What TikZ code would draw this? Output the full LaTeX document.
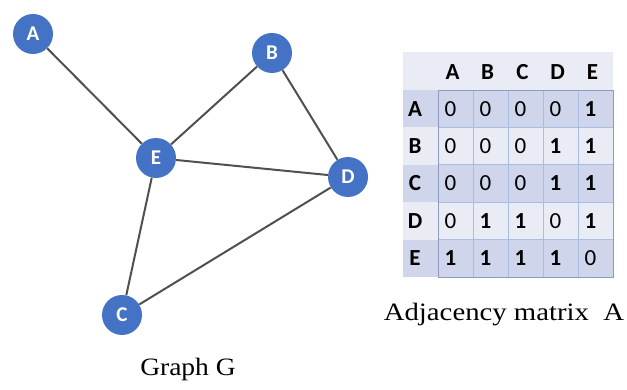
\documentclass[tikz,border=0pt]{standalone}
\usepackage{fontspec}
\newfontfamily\carlito{Carlito}
\newfontfamily\capserif{Liberation Serif}
\definecolor{nodeblue}{HTML}{4472C4}
\definecolor{edgegray}{HTML}{505050}
\definecolor{hdrlight}{HTML}{E9EBF5}
\definecolor{banddark}{HTML}{CFD5EA}
\definecolor{bandlight}{HTML}{E9EBF5}
\definecolor{gridline}{HTML}{A9BDE3}
\definecolor{outerline}{HTML}{8E9AC0}
\begin{document}
\begin{tikzpicture}[x=1pt,y=-1pt,
  vertex/.style={circle,fill=nodeblue,minimum size=40pt,inner sep=0pt,text=white,
    font=\carlito\bfseries\fontsize{21}{21}\selectfont},
  edge/.style={draw=edgegray,line width=2pt},
  cell/.style={inner sep=0pt,font=\carlito\fontsize{23}{23}\selectfont},
  hcell/.style={inner sep=0pt,font=\carlito\bfseries\fontsize{23}{23}\selectfont},
  caption/.style={inner sep=0pt,font=\capserif\fontsize{25}{25}\selectfont}]
\useasboundingbox (0,0) rectangle (627,390);
% graph
\node[vertex] (A) at (33,34) {A};
\node[vertex] (B) at (272,53) {B};
\node[vertex] (E) at (156,158) {E};
\node[vertex] (D) at (348,177) {D};
\node[vertex] (C) at (122,315) {C};
\draw[edge] (A) -- (E);
\draw[edge] (B) -- (E);
\draw[edge] (B) -- (D);
\draw[edge] (E) -- (D);
\draw[edge] (E) -- (C);
\draw[edge] (C) -- (D);
\node[caption] (capG) at (188,369) {\scalebox{1.1}[1]{Graph G}};
% matrix
\fill[hdrlight] (403,52) rectangle (613,90);
\foreach \r in {1,...,5}{
  \pgfmathsetmacro{\ya}{90+(\r-1)*37.4}
  \pgfmathsetmacro{\yb}{90+\r*37.4}
  \ifodd\r
    \fill[banddark] (403,\ya) rectangle (613,\yb);
  \else
    \fill[bandlight] (403,\ya) rectangle (613,\yb);
  \fi
}
\foreach \k in {1,...,4}{
  \draw[gridline,line width=0.6pt] (438+\k*35,90) -- (438+\k*35,277);
  \draw[gridline,line width=0.6pt] (438,90+\k*37.4) -- (613,90+\k*37.4);
}
\draw[outerline,line width=0.7pt] (438,90) rectangle (613,277);
\foreach \h [count=\c] in {A,B,C,D,E}{
  \node[hcell] (h-\c) at (438+\c*35-35+14.5,72) {\h};
}
\foreach \rl/\vals [count=\r] in {A/{0,0,0,0,1},B/{0,0,0,1,1},C/{0,0,0,1,1},D/{0,1,1,0,1},E/{1,1,1,1,0}}{
  \node[hcell] (r-\r) at (415,90+\r*37.4-18.7) {\rl};
  \foreach \v [count=\c] in \vals {
    \node[cell] (m-\r-\c) at (438+\c*35-35+12.5,90+\r*37.4-18.7) {\ifnum\v=1\bfseries\fi\v};
  }
}
\node[caption] (capA) at (504,315) {\scalebox{1.15}[1]{Adjacency matrix\ \ A}};
\end{tikzpicture}
\end{document}
